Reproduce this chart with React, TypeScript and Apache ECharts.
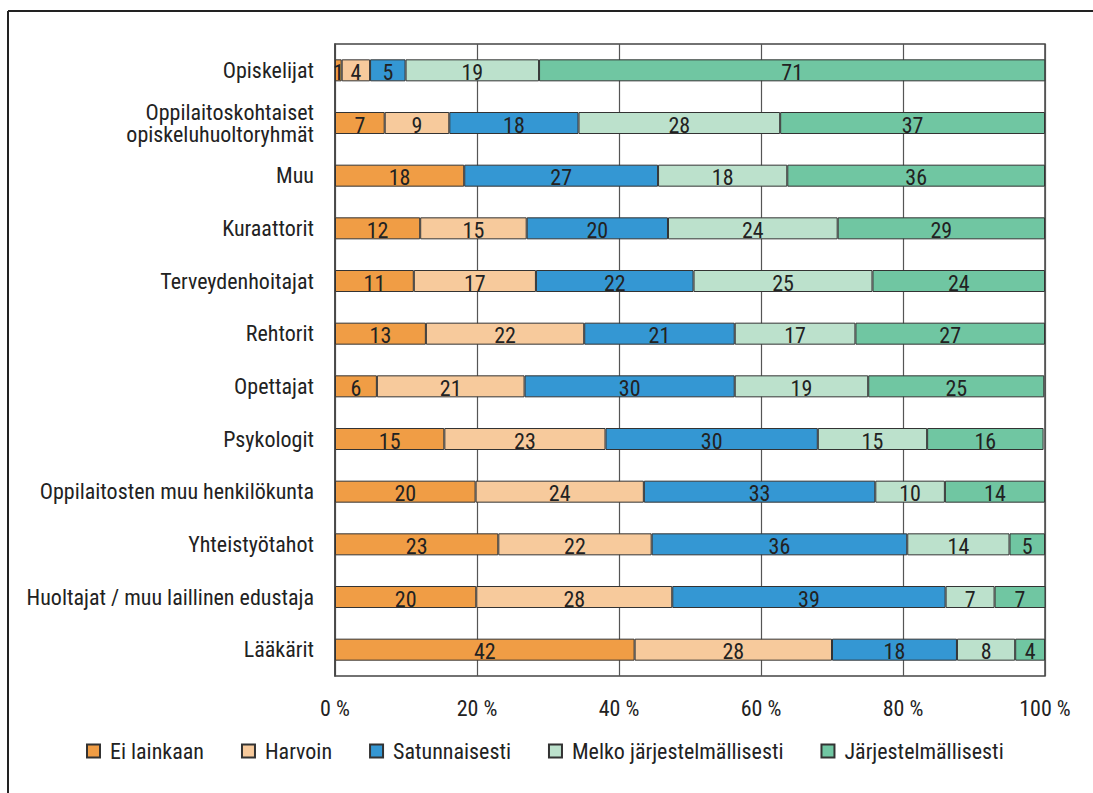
import React, { useEffect, useRef } from "react";
import * as echarts from "echarts";

const categories = [
  "Opiskelijat",
  "Oppilaitoskohtaiset\nopiskeluhuoltoryhmät",
  "Muu",
  "Kuraattorit",
  "Terveydenhoitajat",
  "Rehtorit",
  "Opettajat",
  "Psykologit",
  "Oppilaitosten muu henkilökunta",
  "Yhteistyötahot",
  "Huoltajat / muu laillinen edustaja",
  "Lääkärit",
];

const eiLainkaan = [0.94, 7.0, 18.2, 12.0, 11.1, 12.8, 5.9, 15.4, 19.8, 23.0, 19.9, 42.2];
const harvoin = [4.0, 9.1, null, 15.0, 17.2, 22.3, 20.8, 22.7, 23.7, 21.6, 27.6, 27.8];
const satunnaisesti = [5.0, 18.2, 27.3, 19.9, 22.2, 21.2, 29.6, 29.9, 32.6, 36.0, 38.5, 17.6];
const melkoJarjestelmallisesti = [18.8, 28.4, 18.2, 23.9, 25.2, 17.0, 18.8, 15.4, 9.8, 14.4, 6.9, 8.2];
const jarjestelmallisesti = [71.3, 37.3, 36.3, 29.2, 24.3, 26.7, 24.8, 16.4, 14.1, 5.0, 7.2, 4.2];

const seriesNames = [
  "Ei lainkaan",
  "Harvoin",
  "Satunnaisesti",
  "Melko järjestelmällisesti",
  "Järjestelmällisesti",
];
const seriesData = [eiLainkaan, harvoin, satunnaisesti, melkoJarjestelmallisesti, jarjestelmallisesti];
const colors = ["#F09D45", "#F7CA9C", "#3497D3", "#BCE1CC", "#70C6A2"];

const FONT = "'Roboto Condensed', 'Liberation Sans Narrow', 'Liberation Sans', sans-serif";
const FS = 22;

export default function App() {
  const ref = useRef<HTMLDivElement>(null);
  useEffect(() => {
    if (!ref.current) return;
    const chart = echarts.init(ref.current, null, { renderer: "svg" });
    chart.setOption({
      animation: false,
      backgroundColor: "#ffffff",
      textStyle: { fontFamily: FONT },
      grid: {
        left: 335,
        right: 48,
        top: 44,
        bottom: 117,
        show: true,
        borderColor: "#444",
        borderWidth: 1.5,
        containLabel: false,
        outerBoundsMode: "none",
      },
      legend: {
        left: 86,
        top: 740,
        padding: 0,
        width: 1000,
        itemWidth: 13,
        itemHeight: 13,
        itemGap: 37,
        icon: "rect",
        textStyle: { fontFamily: FONT, fontSize: FS, color: "#222", padding: [0, 0, 0, 5] },
        data: seriesNames,
      },
      xAxis: {
        type: "value",
        min: 0,
        max: 100,
        interval: 20,
        axisLine: { show: false },
        axisTick: { show: false },
        splitLine: { show: true, lineStyle: { color: "#555", width: 1.2 } },
        axisLabel: {
          formatter: "{value} %",
          fontFamily: FONT,
          fontSize: FS,
          color: "#222",
          margin: 21,
        },
      },
      yAxis: {
        type: "category",
        inverse: true,
        data: categories,
        axisTick: { show: false },
        axisLine: { show: true, lineStyle: { color: "#444", width: 1.5 } },
        axisLabel: {
          fontFamily: FONT,
          fontSize: FS,
          lineHeight: 22,
          color: "#222",
          margin: 21,
        },
      },
      series: seriesNames.map((name, i) => ({
        name,
        type: "bar",
        stack: "total",
        barWidth: 22,
        data: seriesData[i],
        itemStyle: { color: colors[i], borderColor: "#333", borderWidth: 1 },
        label: {
          show: true,
          position: "inside",
          fontFamily: FONT,
          fontSize: FS,
          color: "#222",
          offset: [0, 2],
          formatter: (p: any) => (p.value == null || p.value === 0 ? "" : String(Math.round(p.value))),
        },
      })),
      graphic: [
        {
          type: "line",
          shape: { x1: 8, y1: 11, x2: 1093, y2: 11 },
          style: { stroke: "#222", lineWidth: 2 },
        },
        {
          type: "line",
          shape: { x1: 8, y1: 11, x2: 8, y2: 793 },
          style: { stroke: "#222", lineWidth: 2 },
        },
      ],
    });
    return () => chart.dispose();
  }, []);
  return (
    <div
      ref={ref}
      style={{ position: "absolute", left: 0, top: 0, width: 1093, height: 793 }}
    />
  );
}
